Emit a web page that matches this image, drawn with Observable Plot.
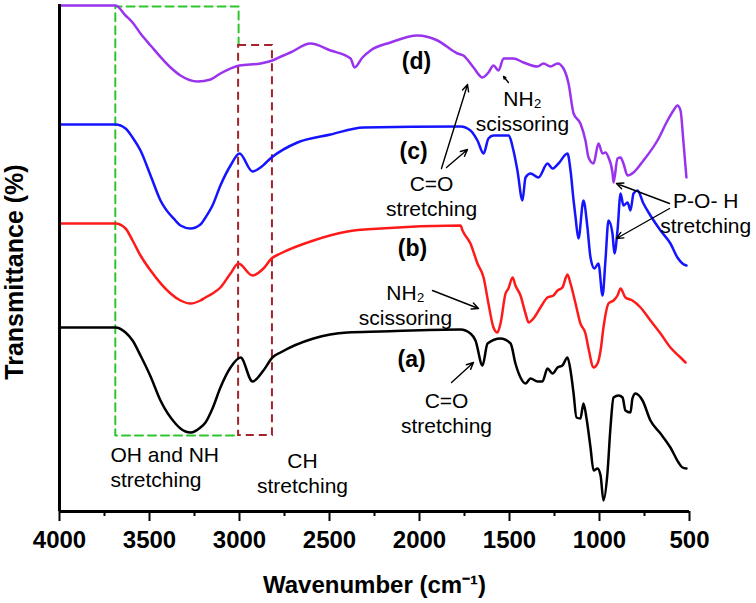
<!DOCTYPE html>
<html><head><meta charset="utf-8">
<script src="https://cdn.jsdelivr.net/npm/d3@7"></script>
<script src="https://cdn.jsdelivr.net/npm/@observablehq/plot@0.6"></script>
<style>
html,body{margin:0;padding:0;background:#fff;}
#chart svg{display:block;}
</style>
</head><body><div id="chart"></div>
<script>
// Wavenumber (cm-1) and transmittance (arbitrary offset units) for each spectrum
const wnA = [4000,3689,3633,3594,3550,3494,3439,3356,3328,3272,3217,3189,3150,3106,3050,2994,2928,2867,2817,2772,2589,2400,2217,1772,1717,1689,1650,1622,1550,1494,1467,1439,1411,1383,1344,1317,1289,1261,1233,1206,1178,1161,1144,1128,1106,1089,1072,1050,1033,1011,994,978,956,939,922,894,872,856,828,817,800,761,717,661,606,561,539,517];
const tA  = [184,184,179,171,156,135,111,88,83,79,84,89,103,124,144,154,130,141,154,159,173,179,180,182,178,171,146,168,173,168,148,134,128,133,130,130,143,138,144,146,154,141,118,94,93,108,93,64,41,43,36,11,38,84,114,116,114,101,99,113,118,111,91,78,64,49,44,43];

const wnB = [4000,3689,3633,3594,3550,3494,3383,3328,3272,3217,3189,3150,3106,3050,3006,2928,2867,2822,2772,2589,2400,2217,1772,1761,1717,1678,1644,1617,1589,1567,1550,1522,1506,1483,1467,1439,1411,1394,1367,1328,1289,1256,1233,1206,1178,1161,1133,1106,1078,1061,1033,1011,994,978,950,922,900,883,856,817,772,717,661,606,550,522];
const tB  = [288,288,283,271,256,241,218,211,208,211,214,218,224,238,248,236,243,253,258,271,280,283,286,281,268,248,234,208,184,179,188,218,223,234,226,216,198,189,193,204,214,216,221,224,237,228,208,188,178,163,144,148,161,184,208,211,216,223,214,211,204,191,178,164,154,149];

const wnC = [4000,3689,3633,3594,3550,3494,3439,3356,3328,3272,3217,3189,3150,3106,3050,3000,2928,2883,2822,2678,2494,2311,1772,1717,1678,1644,1617,1589,1506,1478,1456,1428,1411,1383,1339,1289,1261,1228,1178,1161,1144,1133,1117,1089,1067,1050,1028,1006,983,967,950,928,917,900,883,867,844,828,811,789,756,717,661,606,567,539,517];
const tC  = [387,387,383,374,361,336,311,291,286,283,287,294,306,326,346,358,340,344,354,369,377,384,385,381,371,358,373,376,376,361,341,311,334,338,334,348,343,348,358,341,311,294,273,311,284,254,243,248,216,251,291,278,258,281,318,306,309,301,318,321,308,296,281,268,254,248,246];

const wnD = [4000,3689,3633,3594,3550,3494,3383,3328,3233,3161,3106,3000,2883,2817,2756,2717,2606,2494,2383,2361,2317,2272,2161,2011,1900,1789,1756,1700,1650,1617,1589,1561,1533,1478,1422,1344,1311,1272,1233,1200,1172,1144,1106,1078,1061,1033,1006,983,967,950,928,922,900,883,867,844,811,756,678,622,589,567,550,533,517];
const tD  = [506,506,496,489,478,466,444,436,430,432,438,446,448,451,456,459,468,461,453,444,454,461,469,476,471,458,456,444,434,439,446,441,453,453,449,445,448,445,448,443,428,398,388,371,354,348,368,358,359,354,339,329,353,354,348,336,339,351,371,391,401,406,401,368,334];

const seriesNames  = ["(a)", "(b)", "(c)", "(d)"];
const seriesColors = ["#000000", "#ff1a1a", "#1414ff", "#9933ee"];
const seriesLabelX = [2044, 2039, 2033, 2017];
const seriesLabelY = [152, 263, 360, 450];

const xTicks      = [4000, 3500, 3000, 2500, 2000, 1500, 1000, 500];
const xMinorTicks = [3750, 3250, 2750, 2250, 1750, 1250, 750];
const xLabel = "Wavenumber (cm\u207B\u00B9)";
const yLabel = "Transmittance (%)";

// Dashed boxes (band regions)
const greenBoxX = [3005, 3005, 3690, 3690, 3005];
const greenBoxY = [466, 505, 505, 76, 76];
const redBoxX = [3005, 2817];
const redBoxY = [76, 466];

// Annotation texts
const noteText   = ["OH and NH\nstretching", "CH\nstretching", "NH\u2082\nscissoring", "C=O\nstretching", "P-O- H\nstretching", "NH\u2082\nscissoring", "C=O\nstretching"];
const noteX      = [3717, 2650, 1428, 1933, 410, 2078, 1850];
const noteY      = [67, 61, 423, 338, 321, 229, 121];
const noteAnchor = ["start", "middle", "middle", "middle", "middle", "middle", "middle"];

// Annotation arrows (tail -> head)
const arrowX1 = [1506, 1878, 1850, 611, 611, 1928, 1822];
const arrowY1 = [429, 343, 344, 308, 303, 221, 129];
const arrowX2 = [1533, 1733, 1733, 906, 906, 1672, 1700];
const arrowY2 = [435, 427, 362, 328, 273, 203, 149];

const rows = [];
[[wnA, tA, "(a)"], [wnB, tB, "(b)"], [wnC, tC, "(c)"], [wnD, tD, "(d)"]].forEach(([w, t, s]) => {
  const pts = w.map((x, i) => ({wn: x, t: t[i], series: s}));
  pts.sort((p, q) => p.wn - q.wn);
  rows.push(...pts);
});
const greenPts = greenBoxX.map((x, i) => ({x, y: greenBoxY[i]}));
const redRect = [{x1: redBoxX[0], x2: redBoxX[1], y1: redBoxY[0], y2: redBoxY[1]}];
const seriesLbl = seriesNames.map((s, i) => ({s, x: seriesLabelX[i], y: seriesLabelY[i]}));
const notes = noteText.map((t, i) => ({t, x: noteX[i], y: noteY[i], a: noteAnchor[i]}));
const arrows = arrowX1.map((x1, i) => ({x1, y1: arrowY1[i], x2: arrowX2[i], y2: arrowY2[i]}));
const noteStyle = {x: "x", y: "y", text: "t", lineAnchor: "top", lineHeight: 1.19, fontSize: 21};

const chart = Plot.plot({
  width: 756, height: 603,
  marginLeft: 59, marginRight: 67, marginTop: 4, marginBottom: 92,
  style: {fontFamily: "'Liberation Sans', Arial, sans-serif", background: "#fff", color: "#000", overflow: "visible"},
  x: {domain: [4000, 500]},
  y: {domain: [0, 507], axis: null},
  color: {domain: seriesNames, range: seriesColors},
  marks: [
    Plot.line(greenPts, {x: "x", y: "y", stroke: "#2ec52e", strokeWidth: 2, strokeDasharray: "8,5", curve: "linear"}),
    Plot.rect(redRect, {x1: "x1", x2: "x2", y1: "y1", y2: "y2", fill: "none", stroke: "#a3232b", strokeWidth: 2, strokeDasharray: "8,5"}),
    Plot.line(rows, {x: "wn", y: "t", z: "series", stroke: "series", strokeWidth: 2.5, strokeLinejoin: "round", curve: "monotone-x"}),
    Plot.ruleX([4000], {stroke: "#000", strokeWidth: 3}),
    Plot.ruleY([0], {stroke: "#000", strokeWidth: 3}),
    Plot.axisX({ticks: xTicks, tickSize: 10, tickPadding: 9, tickFormat: d => String(d), fontSize: 24, fontWeight: "bold", strokeWidth: 2, label: null}),
    Plot.axisX({ticks: xMinorTicks, tickSize: 5, tickFormat: () => "", strokeWidth: 2, label: null}),
    Plot.text([xLabel], {text: d => d, frameAnchor: "bottom", lineAnchor: "middle", textAnchor: "middle", dy: 74, fontSize: 24, fontWeight: "bold"}),
    Plot.text([yLabel], {text: d => d, frameAnchor: "left", textAnchor: "middle", lineAnchor: "middle", rotate: -90, dx: -45, dy: 14, fontSize: 25, fontWeight: "bold"}),
    Plot.text(seriesLbl, {x: "x", y: "y", text: "s", fontSize: 23, fontWeight: "bold"}),
    Plot.text(notes.filter(d => d.a === "start"), {...noteStyle, textAnchor: "start"}),
    Plot.text(notes.filter(d => d.a === "middle"), {...noteStyle, textAnchor: "middle"}),
    Plot.arrow(arrows, {x1: "x1", y1: "y1", x2: "x2", y2: "y2", stroke: "#000", strokeWidth: 1.4, headLength: 8, headAngle: 50})
  ]
});
document.getElementById("chart").appendChild(chart);
</script>
</body></html>
